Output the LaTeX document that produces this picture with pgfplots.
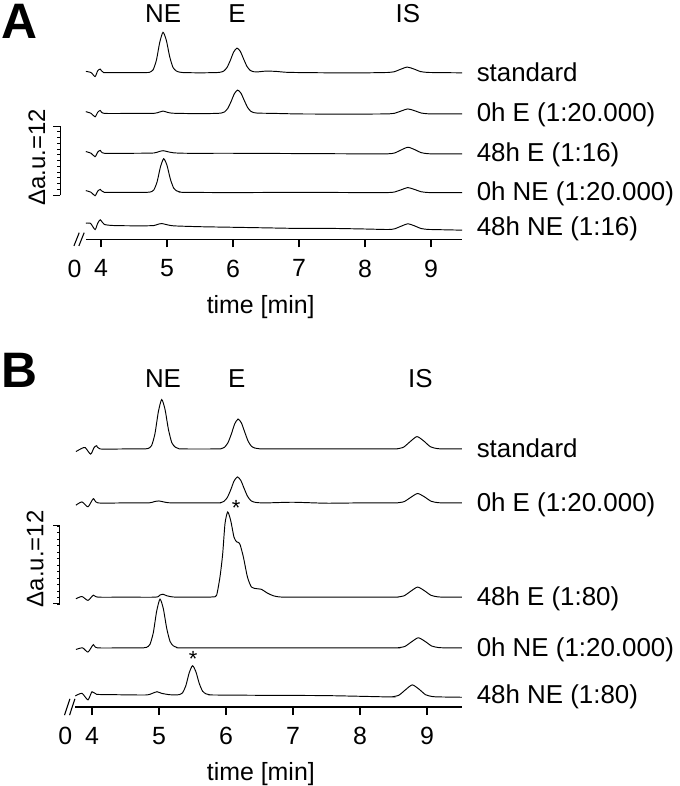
\documentclass[border=0pt]{standalone}
\usepackage{fontspec}
\setmainfont{Liberation Sans}
\usepackage{pgfplots}
\pgfplotsset{compat=1.18}
\usepackage{pgfplotstable}
\newcommand\lab{\fontsize{26}{30}\selectfont}
\newcommand\tkf{\fontsize{25}{30}\selectfont}

% ---------------- Panel A traces (signal in a.u., relative to own baseline)
\pgfplotstableread{
x y
3.77 0.2
3.85 0.0
3.91 -0.7
3.95 0.3
3.99 0.6
4.04 0.0
4.3 0.0
4.69 0.0
4.74 0.07
4.79 0.49
4.84 2.17
4.89 5.25
4.94 7.0
4.99 5.6
5.04 2.8
5.09 0.91
5.14 0.28
5.19 0.07
5.24 0.0
5.5 -0.05
5.76 0.0
5.81 0.06
5.86 0.26
5.91 0.89
5.96 2.13
6.01 3.57
6.06 4.25
6.11 3.7
6.16 2.38
6.21 1.1
6.26 0.38
6.31 0.15
6.36 0.1
6.5 0.25
6.65 0.2
6.8 0.05
7.0 0.0
7.5 -0.05
8.0 -0.05
8.29 0.0
8.34 0.01
8.44 0.13
8.54 0.57
8.64 0.95
8.74 0.62
8.84 0.17
8.94 0.03
9.04 0.0
9.47 -0.05
}\Astd
\pgfplotstableread{
x y
3.77 0.3
3.85 0.0
3.91 -0.6
3.95 0.2
3.99 0.5
4.05 0.0
4.5 0.0
4.8 0.0
4.88 0.2
4.94 0.4
5.0 0.2
5.1 0.02
5.5 -0.05
5.77 0.0
5.82 0.05
5.87 0.24
5.92 0.85
5.97 2.03
6.02 3.4
6.07 4.05
6.12 3.52
6.17 2.27
6.22 1.05
6.27 0.36
6.32 0.12
6.37 0.04
6.6 0.0
7.0 -0.1
7.5 -0.12
8.0 -0.12
8.3 -0.1
8.35 -0.09
8.45 0.02
8.55 0.42
8.65 0.77
8.75 0.47
8.85 0.06
8.95 -0.07
9.05 -0.1
9.47 -0.1
}\AzeroE
\pgfplotstableread{
x y
3.77 0.3
3.85 0.0
3.91 -0.6
3.95 0.2
3.99 0.5
4.05 0.0
4.5 0.0
4.8 0.05
4.88 0.3
4.94 0.45
5.0 0.3
5.1 0.08
5.3 0.0
6.0 0.0
7.0 -0.05
8.0 -0.1
8.35 -0.09
8.45 0.06
8.55 0.59
8.65 1.05
8.75 0.65
8.85 0.11
8.95 -0.07
9.05 -0.1
9.47 -0.1
}\AfortyE
\pgfplotstableread{
x y
3.77 0.3
3.85 0.0
3.91 -0.6
3.95 0.2
3.99 0.5
4.05 0.0
4.4 0.0
4.70 0.0
4.75 0.06
4.80 0.41
4.85 1.81
4.90 4.39
4.95 5.85
5.00 4.68
5.05 2.34
5.10 0.76
5.15 0.23
5.20 0.06
5.25 0.0
6.0 -0.05
7.0 0.0
8.0 -0.05
8.35 -0.04
8.45 0.06
8.55 0.45
8.65 0.82
8.75 0.5
8.85 0.1
8.95 -0.03
9.05 -0.05
9.47 -0.05
}\AzeroNE
\pgfplotstableread{
x y
3.77 0.6
3.84 0.6
3.91 -0.5
3.95 0.6
3.99 1.2
4.05 0.4
4.2 0.2
4.6 0.15
4.8 0.2
4.87 0.45
4.92 0.55
4.98 0.4
5.1 0.15
5.5 0.0
6.0 -0.1
6.5 -0.2
7.0 -0.3
7.5 -0.3
8.0 -0.4
8.35 -0.49
8.45 -0.36
8.55 0.1
8.65 0.5
8.75 0.15
8.85 -0.32
8.95 -0.47
9.05 -0.5
9.47 -0.6
}\AfortyNE

% ---------------- Panel B traces
\pgfplotstableread{
x y
3.76 -0.4
3.85 0.1
3.9 0.2
3.98 -0.8
4.03 0.2
4.07 0.5
4.12 0.0
4.5 0.0
4.79 0.0
4.84 0.08
4.89 0.53
4.94 2.36
4.99 5.7
5.04 7.6
5.09 6.08
5.14 3.04
5.19 0.99
5.24 0.3
5.29 0.08
5.34 0.0
5.88 0.0
5.93 0.06
5.98 0.28
6.03 0.97
6.08 2.3
6.13 3.86
6.18 4.6
6.23 4.0
6.28 2.58
6.33 1.2
6.38 0.41
6.43 0.14
6.48 0.05
6.6 0.0
7.5 0.0
8.5 0.0
8.55 0.02
8.65 0.27
8.75 1.14
8.85 1.9
8.95 1.24
9.05 0.34
9.15 0.06
9.25 0.0
9.52 0.0
}\Bstd
\pgfplotstableread{
x y
3.76 -0.35
3.85 0.15
3.94 -0.6
4.02 0.65
4.09 0.0
4.5 0.0
4.85 0.0
4.93 0.2
5.0 0.3
5.07 0.15
5.2 0.0
5.87 0.0
5.92 0.05
5.97 0.24
6.02 0.84
6.07 2.0
6.12 3.36
6.17 4.0
6.22 3.48
6.27 2.24
6.32 1.04
6.37 0.36
6.42 0.12
6.47 0.04
6.6 0.0
7.0 0.1
7.5 -0.05
8.0 0.0
8.51 0.0
8.56 0.015
8.66 0.2
8.76 0.87
8.86 1.45
8.96 0.94
9.06 0.26
9.16 0.04
9.26 0.0
9.52 0.0
}\BzeroE
\pgfplotstableread{
x y
3.76 -0.25
3.85 0.1
3.94 -0.5
4.02 0.3
4.09 0.0
4.5 0.0
4.95 0.0
5.01 0.3
5.06 0.45
5.12 0.2
5.25 0.0
5.7 0.0
5.81 0.05
5.86 0.3
5.91 3.1
5.95 6.6
5.985 11.3
6.025 13.1
6.07 11.8
6.12 9.2
6.16 8.5
6.19 8.4
6.21 8.1
6.26 6.15
6.32 3.1
6.38 1.55
6.46 1.3
6.53 1.2
6.61 0.67
6.71 0.2
6.86 0.0
7.5 0.0
8.51 0.0
8.56 0.02
8.66 0.22
8.76 0.93
8.86 1.55
8.96 1.0
9.06 0.28
9.16 0.05
9.26 0.0
9.52 0.0
}\BfortyE
\pgfplotstableread{
x y
3.76 -0.25
3.86 0.0
3.94 -0.65
4.02 0.5
4.08 0.0
4.5 0.0
4.765 0.0
4.815 0.08
4.865 0.53
4.915 2.33
4.965 5.63
5.015 7.5
5.065 6.0
5.115 3.0
5.165 0.98
5.215 0.3
5.265 0.08
5.315 0.0
6.0 0.0
7.0 0.0
8.52 0.0
8.57 0.02
8.67 0.22
8.77 0.93
8.87 1.55
8.97 1.0
9.07 0.28
9.17 0.05
9.27 0.0
9.52 0.0
}\BzeroNE
\pgfplotstableread{
x y
3.75 -0.15
3.85 0.25
3.94 -0.75
4.0 0.5
4.07 0.1
4.3 0.05
4.8 0.0
4.9 0.25
4.97 0.5
5.04 0.25
5.15 0.05
5.25 0.0
5.30 0.05
5.35 0.32
5.40 1.4
5.45 3.38
5.50 4.5
5.55 3.6
5.60 1.8
5.65 0.59
5.70 0.18
5.75 0.05
5.8 0.0
6.5 -0.05
7.5 -0.1
8.43 -0.3
8.48 -0.28
8.58 -0.04
8.68 0.81
8.78 1.55
8.88 0.9
8.98 0.03
9.08 -0.24
9.18 -0.3
9.52 -0.35
}\BfortyNE

\pgfplotsset{
  chrom/.style={
    scale only axis, clip=false,
    xmin=3.55, xmax=9.6, ymin=0,
    axis line style={draw=none},
    ytick=\empty,
    xtick={4,5,6,7,8,9},
    xtick pos=left,
    tick align=outside,
    major tick length=8bp,
    tick style={black, line width=1.3bp},
    ticklabel style={font=\tkf},
    xticklabel style={yshift=-9bp},
    /pgf/number format/assume math mode=true,
    extra x ticks={3.6},
    extra x tick labels={0},
    extra x tick style={tick style={draw=none}},
  },
  trace/.style={black, line width=0.95bp, smooth, tension=0.4, mark=none},
}

\begin{document}
\begin{tikzpicture}
\useasboundingbox (0bp,0bp) rectangle (680bp,786bp);

\node[inner sep=0pt, font=\fontsize{50}{50}\selectfont\bfseries] at (19bp,765bp) {A};
\node[inner sep=0pt, font=\fontsize{50}{50}\selectfont\bfseries] at (19bp,416bp) {B};

% ================= Panel A
\begin{axis}[chrom, at={(71.3bp,546.7bp)}, anchor=south west,
  width=399.3bp, height=218.5bp, ymax=38]
\addplot[trace] table[x=x, y expr=\thisrow{y}+29.0] {\Astd};
\addplot[trace] table[x=x, y expr=\thisrow{y}+21.9] {\AzeroE};
\addplot[trace] table[x=x, y expr=\thisrow{y}+14.96] {\AfortyE};
\addplot[trace] table[x=x, y expr=\thisrow{y}+8.17] {\AzeroNE};
\addplot[trace] table[x=x, y expr=\thisrow{y}+2.19] {\AfortyNE};
\draw[line width=1.3bp] (3.77,0) -- (9.47,0);
\draw[line width=1.1bp] (3.59,-1.15) -- (3.67,1.15);
\draw[line width=1.1bp] (3.665,-1.15) -- (3.745,1.15);
% scale bar
\draw[line width=1bp] (3.38,7.7) -- (3.38,19.7);
\pgfplotsinvokeforeach{0,...,12}{\draw[line width=0.8bp] (3.38,{7.7+#1}) -- ++(-3bp,0bp);}
\draw[line width=1bp] (3.38,7.7) -- ++(-7bp,0bp);
\draw[line width=1bp] (3.38,19.7) -- ++(-7bp,0bp);
\node[font=\fontsize{24}{28}\selectfont, rotate=90] at (3.03,14.3) {Δa.u.=12};
% peak names
\node[anchor=base, font=\lab] at (4.94,37.67) {NE};
\node[anchor=base, font=\lab] at (6.06,37.67) {E};
\node[anchor=base, font=\lab] at (8.65,37.67) {IS};
% sample names
\node[anchor=base west, yshift=-8.5bp, font=\lab] at (9.64,29.0) {standard};
\node[anchor=base west, yshift=-8.5bp, font=\lab] at (9.64,21.9) {0h E (1:20.000)};
\node[anchor=base west, yshift=-8.5bp, font=\lab] at (9.64,14.96) {48h E (1:16)};
\node[anchor=base west, yshift=-8.5bp, font=\lab] at (9.64,8.17) {0h NE (1:20.000)};
\node[anchor=base west, yshift=-8.5bp, font=\lab] at (9.64,2.19) {48h NE (1:16)};
\node[anchor=base, yshift=-74bp, font=\tkf] at (6.42,0) {time [min]};
\end{axis}

% ================= Panel B
\begin{axis}[chrom, at={(61.85bp,79bp)}, anchor=south west,
  width=405.35bp, height=318.5bp, ymax=49]
\addplot[trace] table[x=x, y expr=\thisrow{y}+39.7] {\Bstd};
\addplot[trace] table[x=x, y expr=\thisrow{y}+31.4] {\BzeroE};
\addplot[trace] table[x=x, y expr=\thisrow{y}+16.9] {\BfortyE};
\addplot[trace] table[x=x, y expr=\thisrow{y}+9.1] {\BzeroNE};
\addplot[trace] table[x=x, y expr=\thisrow{y}+1.85] {\BfortyNE};
\draw[line width=1.3bp] (3.75,0) -- (9.52,0);
\draw[line width=1.1bp] (3.59,-1.25) -- (3.67,1.25);
\draw[line width=1.1bp] (3.665,-1.25) -- (3.745,1.25);
% scale bar
\draw[line width=1bp] (3.52,15.85) -- (3.52,27.85);
\pgfplotsinvokeforeach{0,...,12}{\draw[line width=0.8bp] (3.52,{15.85+#1}) -- ++(-3bp,0bp);}
\draw[line width=1bp] (3.52,15.85) -- ++(-7bp,0bp);
\draw[line width=1bp] (3.52,27.85) -- ++(-7bp,0bp);
\node[font=\fontsize{24}{28}\selectfont, rotate=90] at (3.15,22.8) {Δa.u.=12};
% peak names
\node[anchor=base, font=\lab] at (5.06,49.2) {NE};
\node[anchor=base, font=\lab] at (6.16,49.2) {E};
\node[anchor=base, font=\lab] at (8.9,49.2) {IS};
% asterisks
\node[font=\fontsize{22}{24}\selectfont] at (6.15,30.6) {*};
\node[font=\fontsize{22}{24}\selectfont] at (5.51,7.4) {*};
% sample names
\node[anchor=base west, yshift=-8.5bp, font=\lab] at (9.69,39.7) {standard};
\node[anchor=base west, yshift=-8.5bp, font=\lab] at (9.69,31.4) {0h E (1:20.000)};
\node[anchor=base west, yshift=-8.5bp, font=\lab] at (9.69,16.9) {48h E (1:80)};
\node[anchor=base west, yshift=-8.5bp, font=\lab] at (9.69,9.1) {0h NE (1:20.000)};
\node[anchor=base west, yshift=-8.5bp, font=\lab] at (9.69,1.85) {48h NE (1:80)};
\node[anchor=base, yshift=-73bp, font=\tkf] at (6.52,0) {time [min]};
\end{axis}
\end{tikzpicture}
\end{document}
